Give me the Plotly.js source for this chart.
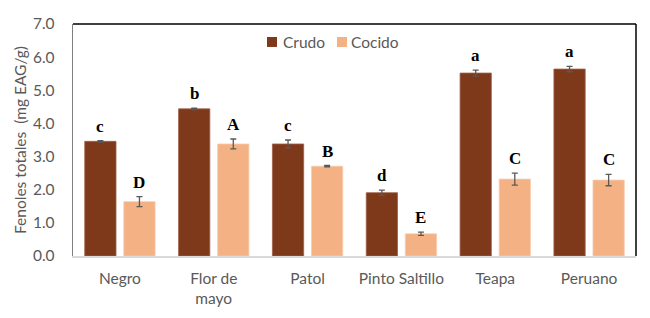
<!DOCTYPE html>
<html><head><meta charset="utf-8">
<script src="https://cdn.plot.ly/plotly-3.0.1.min.js"></script>
<style>body{margin:0;background:#fff}#chart{width:650px;height:318px}</style>
</head><body><div id="chart"></div>
<script>
const categories = ["Negro", "Flor de<br>mayo", "Patol", "Pinto Saltillo", "Teapa", "Peruano"];
const crudo = [3.46, 4.44, 3.38, 1.91, 5.52, 5.64];
const crudoErr = [0.02, 0.02, 0.12, 0.08, 0.09, 0.08];
const cocido = [1.64, 3.38, 2.71, 0.67, 2.32, 2.29];
const cocidoErr = [0.15, 0.15, 0.02, 0.05, 0.18, 0.17];
const crudoLetters = ["c", "b", "c", "d", "a", "a"];
const cocidoLetters = ["D", "A", "B", "E", "C", "C"];
const yTicks = [0, 1, 2, 3, 4, 5, 6, 7];
const seriesNames = ["Crudo", "Cocido"];
const seriesColors = ["#7E391B", "#F4B183"];

const fam = "Lato, 'Open Sans', sans-serif";
const textFont = {family: fam, size: 15.5, color: "#595959"};
const errStyle = {type: "data", visible: true, color: "#595959", thickness: 1.3, width: 3};
const letterFont = {family: "'Liberation Serif', serif", size: 17, color: "#000", weight: "bold"};

const traces = [
  {type: "bar", name: seriesNames[0], x: categories, y: crudo,
   error_y: Object.assign({array: crudoErr}, errStyle),
   marker: {color: seriesColors[0], line: {color: "#A0604A", width: 0.8}}},
  {type: "bar", name: seriesNames[1], x: categories, y: cocido,
   error_y: Object.assign({array: cocidoErr}, errStyle),
   marker: {color: seriesColors[1], line: {color: "#F8CBAD", width: 0.8}}}
];

const annotations = [];
categories.forEach((c, i) => {
  annotations.push({x: c, y: crudo[i] + crudoErr[i], xref: "x", yref: "y", text: crudoLetters[i],
    showarrow: false, yanchor: "bottom", xshift: -19.5, yshift: 3, font: letterFont});
  annotations.push({x: c, y: cocido[i] + cocidoErr[i], xref: "x", yref: "y", text: cocidoLetters[i],
    showarrow: false, yanchor: "bottom", xshift: 19.5, yshift: 3, font: letterFont});
});

// manual legend (text entries)
const legendX = [0.3712, 0.492];
const legendSq = [[0.3446, 0.3623], [0.4689, 0.4867]];
seriesNames.forEach((n, i) => {
  annotations.push({xref: "paper", yref: "paper", x: legendX[i], y: 0.922, xanchor: "left", yanchor: "middle",
    text: n, showarrow: false, font: textFont, borderpad: 0});
});

const shapes = [
  {type: "line", xref: "paper", yref: "paper", x0: 0, x1: 1, y0: 1, y1: 1, line: {color: "#000", width: 1.5}},
  {type: "line", xref: "paper", yref: "paper", x0: 1, x1: 1, y0: 0, y1: 1, line: {color: "#000", width: 1.5}}
];
seriesColors.forEach((col, i) => {
  shapes.push({type: "rect", xref: "paper", yref: "paper", x0: legendSq[i][0], x1: legendSq[i][1],
    y0: 0.901, y1: 0.944, fillcolor: col, line: {width: 0}});
});

const layout = {
  width: 650, height: 318,
  margin: {l: 73, r: 14, t: 24, b: 62},
  paper_bgcolor: "#fff", plot_bgcolor: "#fff",
  barmode: "group", bargap: 0.167, bargroupgap: 0.2,
  font: textFont,
  showlegend: false,
  xaxis: {type: "category", showgrid: false, showline: true, linecolor: "#D9D9D9", linewidth: 1.5,
          ticks: "", tickfont: textFont, ticklabelstandoff: 8, fixedrange: true},
  yaxis: {range: [0, 7], tickvals: yTicks, ticktext: yTicks.map(v => v.toFixed(1)),
          showgrid: false, zeroline: false, showline: true, linecolor: "#7F7F7F", linewidth: 1.3,
          ticks: "", tickfont: textFont, ticklabelstandoff: 14,
          title: {text: "Fenoles totales  (mg EAG/g)", font: {family: fam, size: 15.5, color: "#595959"}, standoff: 2}},
  shapes: shapes,
  annotations: annotations
};

Plotly.newPlot("chart", traces, layout, {displayModeBar: false, staticPlot: true});
</script></body></html>
